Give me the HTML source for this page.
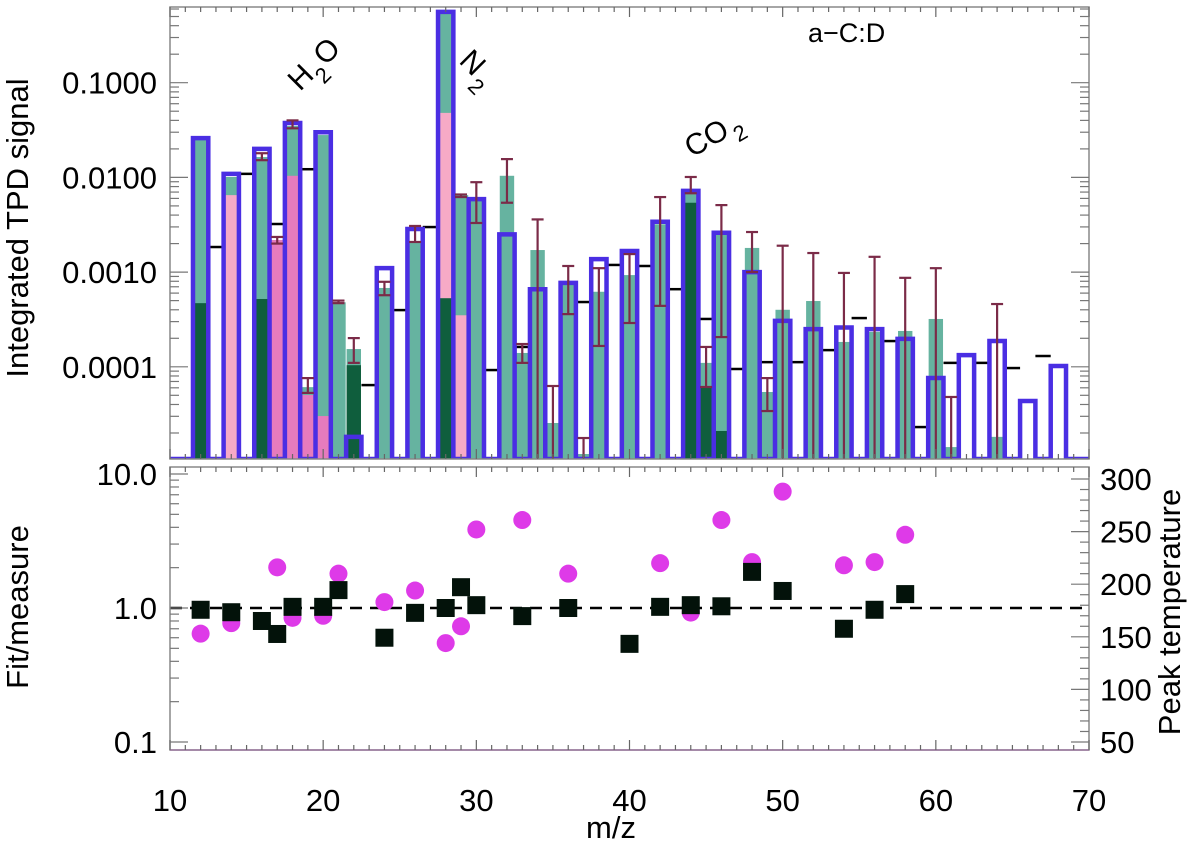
<!DOCTYPE html>
<html><head><meta charset="utf-8"><style>
html,body{margin:0;padding:0;background:#fff;}
svg{display:block;font-family:"Liberation Sans",sans-serif;}
</style></head><body>
<svg id="c" width="1200" height="846" viewBox="0 0 1200 846" xmlns="http://www.w3.org/2000/svg">
<defs>
<clipPath id="topClip"><rect x="170" y="7" width="919" height="452.5"/></clipPath>
</defs>
<g id="topPlot" clip-path="url(#topClip)"></g>
<g id="botPlot"></g>
<g id="axes"></g>
<text x="28" y="228" font-size="31" text-anchor="middle" transform="rotate(-90 28 228)">Integrated TPD signal</text>
<text x="28" y="607" font-size="31" text-anchor="middle" transform="rotate(-90 28 607)">Fit/measure</text>
<text x="1180" y="612" font-size="31" text-anchor="middle" transform="rotate(-90 1180 612)">Peak temperature</text>
<text x="611" y="838" font-size="31" text-anchor="middle">m/z</text>
<text x="808" y="42" font-size="27">a−C:D</text>
<g transform="translate(300 92) rotate(-45)"><text x="0" y="0" font-size="30">H</text><text x="22" y="12" font-size="22">2</text><text x="36" y="0" font-size="30">O</text></g>
<g transform="translate(458 62) rotate(45)"><text x="0" y="0" font-size="30">N</text><text x="24" y="12" font-size="22">2</text></g>
<g transform="translate(692 158) rotate(-30)"><text x="0" y="0" font-size="30">CO</text><text x="48" y="10" font-size="22">2</text></g>
</svg>
<script>
// ---- data ----
const fitMass = [12,14,16,18,20,22,24,26,28,30,32,34,36,38,40,42,44,46,48,50,52,54,56,58,60,62,64,66,68];
const fitVal = [0.026,0.0109,0.020,0.0375,0.030,0.0000182,0.0011,0.00285,0.56,0.0059,0.0025,0.00066,0.00077,0.00137,0.00167,0.0034,0.0072,0.0026,0.0010,0.000305,0.00025,0.00026,0.00025,0.000197,0.0000762,0.000133,0.000187,0.0000436,0.000102];
const lineMass = [13,15,17,19,23,25,27,31,33,37,39,41,43,45,47,49,51,53,55,57,59,61,63,65,67];
const lineVal = [0.00184,0.0109,0.00322,0.0122,0.0000641,0.000397,0.00299,0.0000924,0.000162,0.000483,0.00119,0.00116,0.00066,0.00032,0.0000948,0.000112,0.000112,0.000150,0.000327,0.000187,0.0000231,0.00011,0.00011,0.000097,0.00013];
const measMass = [12,14,16,17,18,19,20,21,22,24,26,28,29,30,32,33,34,35,36,37,38,40,42,44,45,46,48,49,50,52,54,56,58,60,61,64];
const measTotal = [0.0248,0.0101,0.0164,0.00218,0.0349,0.000061,0.028,0.00048,0.000154,0.00068,0.00208,0.56,0.0065,0.0058,0.0104,0.00014,0.00171,0.0000255,0.00077,0.000012,0.00062,0.00093,0.0032,0.0068,0.00011,0.0026,0.0018,0.0000542,0.0004,0.000495,0.000183,0.000233,0.000239,0.00032,0.0000142,0.0000182];
const measPinkLight = [0,0.0065,0,0,0,0,0,0,0,0,0,0.048,0.00035,0,0,0,0,0,0,0,0,0,0,0,0,0,0,0,0,0,0,0,0,0,0,0];
const measPinkDark = [0,0,0,0.00218,0.0104,0.0000503,0.0000302,0,0,0,0,0,0,0,0,0,0,0,0,0,0,0,0,0,0,0,0,0,0,0,0,0,0,0,0,0];
const measDark = [0.00047,0,0.00052,0,0,0,0,0,0.000104,0,0,0.00053,0,0,0,0,0,0,0,0,0,0,0,0.0054,0.0000627,0.000021,0,0,0,0,0,0,0,0,0,0];
const errMass = [16,17,18,19,21,22,24,26,29,30,32,33,34,35,36,37,38,40,42,44,45,46,48,49,50,52,54,56,58,60,61,64];
const errHi = [0.018,0.00235,0.040,0.000076,0.0005,0.000201,0.00079,0.00307,0.0066,0.0089,0.0156,0.000174,0.0036,0.0000627,0.00116,0.0000177,0.0011,0.00155,0.0062,0.0101,0.000162,0.0051,0.00265,0.000076,0.0019,0.00159,0.00098,0.00145,0.00087,0.0011,0.000048,0.00046];
const errLo = [0.0152,0.0020,0.033,0.000053,0.00047,0.00011,0.00057,0.00208,0.0062,0.0033,0.0054,0.00011,0.000001,0.000001,0.00036,0.000001,0.000166,0.00029,0.00044,0.0068,0.0000612,0.000206,0.0010,0.0000341,0.000001,0.000001,0.000001,0.000001,0.000001,0.000001,0.000001,0.000001];
const ratioMass = [12,14,16,17,18,20,21,24,26,28,29,30,33,36,40,42,44,46,48,50,54,56,58];
const ratioVal = [0.97,0.93,0.80,0.64,1.02,1.02,1.36,0.60,0.92,1.0,1.43,1.05,0.87,1.0,0.54,1.02,1.05,1.03,1.86,1.34,0.70,0.97,1.27];
const tempMass = [12,14,17,18,20,21,24,26,28,29,30,33,36,42,44,46,48,50,54,56,58];
const tempVal = [153,163,216,168,170,210,183,194,144,160,252,261,210,220,173,261,221,288,218,221,247];
const xTicks = [10,20,30,40,50,60,70];
const topTickLabels = ["0.1000","0.0100","0.0010","0.0001"];
const topTickVals = [0.1,0.01,0.001,0.0001];
const botTickLabels = ["10.0","1.0","0.1"];
const botTickVals = [10,1,0.1];
const rightTicks = [300,250,200,150,100,50];

// ---- scales ----
const X0=170, X1=1089;
const xs = m => X0 + (m-10)*(X1-X0)/60;
const BASE = 459;
const ys = v => Math.min(BASE, 82.7 - (Math.log10(v)+1)*94.7);
const yr = v => 608 - Math.log10(v)*134;
const yt = t => 742 - (t-50)*263/250;

const NS="http://www.w3.org/2000/svg";
function mk(tag, parent, attrs){const e=document.createElementNS(NS,tag);for(const k in attrs)e.setAttribute(k,attrs[k]);parent.appendChild(e);return e;}
const topG=document.getElementById('topPlot'), botG=document.getElementById('botPlot'), ax=document.getElementById('axes');

// measured bars
const hw=0.47;
measMass.forEach((m,i)=>{
  const layers=[[measTotal[i],'#66b3a0','measured-bar'],[measPinkLight[i],'#f6aac6','pink-component-bar'],[measPinkDark[i],'#e67bbd','pink-dark-component-bar'],[measDark[i],'#0f5e3d','dark-green-component-bar']];
  layers.forEach(([v,c,n])=>{
    if(!v) return;
    const y=ys(v);
    const r=mk('rect',topG,{x:xs(m-hw),y:y,width:xs(m+hw)-xs(m-hw),height:BASE-y,fill:c});
    
    
  });
});
// black step segments
lineMass.forEach((m,i)=>{
  const y=ys(lineVal[i]);
  const l=mk('line',topG,{x1:xs(m-0.5),x2:xs(m+0.5),y1:y,y2:y,stroke:'#000','stroke-width':2.5});
  
  
});
// fit outline path
let d='M'+X0+' '+BASE;
fitMass.forEach((m,i)=>{const y=ys(fitVal[i]);const a=xs(m-0.5),b=xs(m+0.5);d+=` L${a} ${BASE} L${a} ${y} L${b} ${y} L${b} ${BASE}`;});
d+=' L'+X1+' '+BASE;
const fp=mk('path',topG,{d:d,fill:'none',stroke:'#4a2ee3','stroke-width':4.5,'stroke-linejoin':'miter'});


// error bars
errMass.forEach((m,i)=>{
  const g=mk('g',topG,{stroke:'#7b2b48','stroke-width':2.2});
  
  
  const x=xs(m), y1=ys(errHi[i]), y2=ys(errLo[i]);
  mk('line',g,{x1:x,x2:x,y1:y1,y2:y2});
  mk('line',g,{x1:x-6,x2:x+6,y1:y1,y2:y1});
  if(y2<BASE-1) mk('line',g,{x1:x-6,x2:x+6,y1:y2,y2:y2});
});

// bottom panel
const dl=mk('line',botG,{x1:X0,x2:X1,y1:yr(1),y2:yr(1),stroke:'#000','stroke-width':2.5,'stroke-dasharray':'12 8'});


tempMass.forEach((m,i)=>{
  const c=mk('circle',botG,{cx:xs(m),cy:yt(tempVal[i]),r:9,fill:'#de3ae8'});
  
  
});
ratioMass.forEach((m,i)=>{
  const r=mk('rect',botG,{x:xs(m)-9,y:yr(ratioVal[i])-9,width:18,height:18,fill:'#03120a'});
  
  
});

// axes frames
const g1=mk('rect',ax,{x:X0,y:7,width:X1-X0,height:BASE-7,fill:'none',stroke:'#888','stroke-width':1.5});


const g2=mk('rect',ax,{x:X0,y:467,width:X1-X0,height:283,fill:'none',stroke:'#888','stroke-width':1.5});


mk('line',ax,{x1:X0,x2:X1,y1:750,y2:750,stroke:'#a58aa8','stroke-width':2});
// x ticks
for(let m=10;m<=70;m++){
  const x=xs(m), L=(m%10===0)?10:5;
  [[7,1],[BASE,-1],[467,1],[750,-1]].forEach(([y,s])=>mk('line',ax,{x1:x,x2:x,y1:y,y2:y+s*L,stroke:'#666','stroke-width':1.2}));
}
xTicks.forEach(t=>{
  const tx=mk('text',ax,{x:xs(t),y:811,'font-size':31,'text-anchor':'middle'});
  tx.textContent=t;
  
  
});
// top y ticks
for(let e=-5;e<=-1;e++){for(let k=1;k<=9;k++){const v=k*Math.pow(10,e);const y=ys(v);if(y<7||y>=BASE)continue;const L=k===1?18:9;
  mk('line',ax,{x1:X0,x2:X0+L,y1:y,y2:y,stroke:'#777','stroke-width':1.2});mk('line',ax,{x1:X1,x2:X1-L,y1:y,y2:y,stroke:'#777','stroke-width':1.2});}}
topTickLabels.forEach((s,i)=>{
  const tx=mk('text',ax,{x:157,y:ys(topTickVals[i])+11,'font-size':31,'text-anchor':'end'});
  tx.textContent=s;
  
  
});
// bottom left ticks
for(let e=-1;e<=1;e++){for(let k=1;k<=9;k++){const v=k*Math.pow(10,e);const y=yr(v);if(y<467||y>750)continue;const L=k===1?18:9;
  mk('line',ax,{x1:X0,x2:X0+L,y1:y,y2:y,stroke:'#777','stroke-width':1.2});}}
botTickLabels.forEach((s,i)=>{
  const tx=mk('text',ax,{x:157,y:yr(botTickVals[i])+11,'font-size':31,'text-anchor':'end'});
  tx.textContent=s;
  
  
});
// right ticks
for(let t=40;t<=300;t+=10){const y=yt(t);if(y<467||y>750)continue;const L=(t%50===0)?18:9;mk('line',ax,{x1:X1,x2:X1-L,y1:y,y2:y,stroke:'#777','stroke-width':1.2});}
rightTicks.forEach(t=>{
  const tx=mk('text',ax,{x:1100,y:yt(t)+11,'font-size':31});
  tx.textContent=t;
  
  
});
</script>
</body></html>
